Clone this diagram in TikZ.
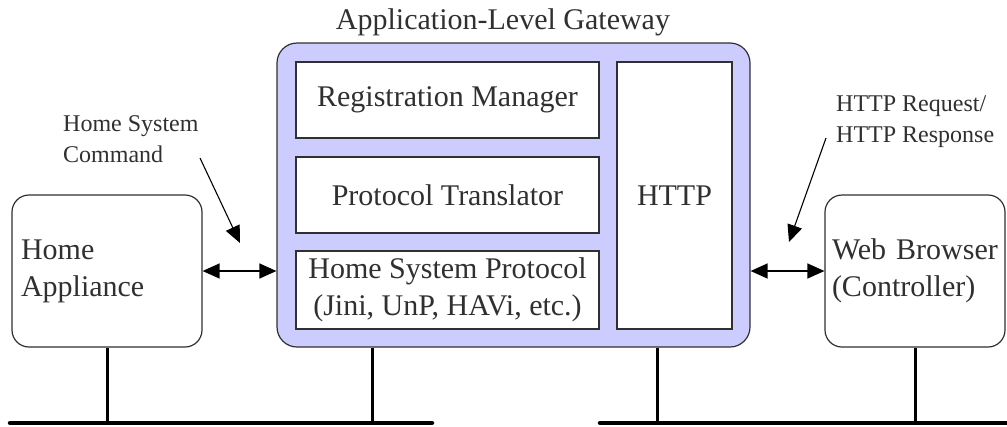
\documentclass[tikz,border=0pt]{standalone}
\usepackage{fontspec}
\setmainfont{Liberation Serif}
\usetikzlibrary{arrows.meta}
\definecolor{gwblue}{HTML}{CCCCFF}
\definecolor{ink}{HTML}{303030}
\tikzset{
  box/.style={draw=ink, line width=1.2pt, fill=white, inner sep=0pt},
  rbox/.style={box, rounded corners=17pt},
  big/.style={font=\fontsize{30}{37}\selectfont, text=ink},
  small/.style={font=\fontsize{24}{31}\selectfont, text=ink},
  dbl/.style={line width=1.3pt, {Triangle[length=17pt,width=15pt]}-{Triangle[length=17pt,width=15pt]}},
  pointer/.style={line width=1.1pt, -{Triangle[length=17pt,width=15pt]}},
  bus/.style={line width=4.5pt, line cap=round},
  stem/.style={line width=3pt}
}
\begin{document}
\begin{tikzpicture}[x=1pt,y=-1pt]
\useasboundingbox (0,0) rectangle (1007,426);
% title
\node[big] (title) at (503,22) {Application-Level Gateway};
% gateway
\node[box, fill=gwblue, rounded corners=20pt, minimum width=473pt, minimum height=304pt] (gw) at (513.5,195) {};
\node[box, big, minimum width=303pt, minimum height=76pt] (reg) at (447.5,100) {Registration Manager};
\node[box, big, minimum width=303pt, minimum height=76pt] (pt) at (447.5,195) {Protocol Translator};
\node[box, big, minimum width=303pt, minimum height=78pt, align=center] (hsp) at (447.5,290) {Home System Protocol\\(Jini, UnP, HAVi, etc.)};
\node[box, big, minimum width=115pt, minimum height=267pt] (http) at (674.5,195.5) {HTTP};
% end boxes
\node[rbox, big, minimum width=190pt, minimum height=152pt, text width=172pt, align=left] (ha) at (107,271) {Home\\Appliance};
\node[rbox, big, minimum width=180pt, minimum height=152pt, text width=166pt, align=left] (wb) at (915,271) {Web Browser\\(Controller)};
% labels
\node[small, anchor=north west, inner sep=0pt, align=left] (lcmd) at (63,115) {Home System\\Command};
\node[small, anchor=north west, inner sep=0pt, align=left] (lhttp) at (836,95) {HTTP Request/\\HTTP Response};
\coordinate (pl) at (240,243);
\coordinate (pr) at (789,242);
\coordinate (ls) at (200,158);
\coordinate (rs) at (826,138);
\draw[pointer, draw=black] (ls) -- (pl);
\draw[pointer, draw=black] (rs) -- (pr);
% double arrows
\draw[dbl] (ha.east) -- (ha.east -| gw.west);
\draw[dbl] (wb.west -| gw.east) -- (wb.west);
% buses
\coordinate (b1) at (10,423);
\coordinate (b2) at (432,423);
\coordinate (b3) at (600,423);
\coordinate (b4) at (1010,423);
\coordinate (s2) at (372,423);
\coordinate (s3) at (657,423);
\draw[bus] (b1) -- (b2);
\draw[bus] (b3) -- (b4);
\draw[stem] (ha.south) -- (ha.south |- b1);
\draw[stem] (gw.south -| s2) -- (s2);
\draw[stem] (gw.south -| s3) -- (s3);
\draw[stem] (wb.south) -- (wb.south |- b3);
\end{tikzpicture}
\end{document}
